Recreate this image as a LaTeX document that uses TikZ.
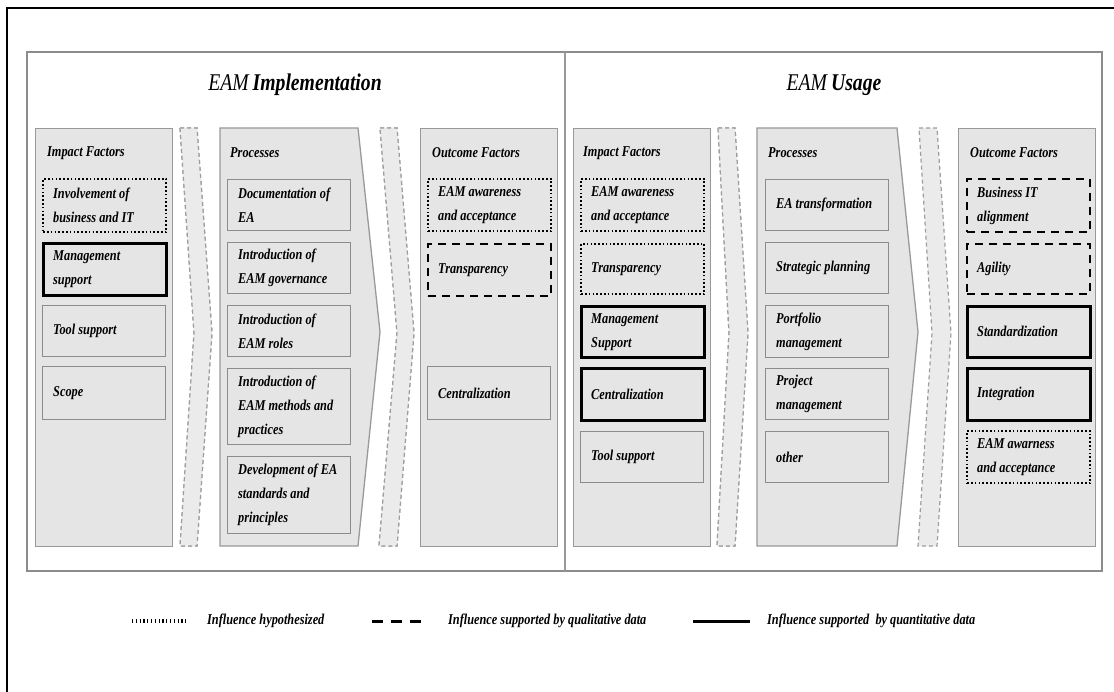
\documentclass[tikz,border=0pt]{standalone}
\usepackage{fontspec}
\setmainfont{Liberation Serif}
\newfontfamily\cond{Liberation Serif}[FakeStretch=0.82]

% one factor box: name, style, x, y (top left), height, text
\newcommand\factorbox[6]{%
  \node[#2, minimum height=#5pt] (#1) at (#3,#4) {};
  \node[lbl] (#1t) at ([xshift=11pt]#1.west) {#6};}

\begin{document}
\begin{tikzpicture}[x=1pt, y=-1pt,
  every node/.style={inner sep=0pt},
  lbl/.style={anchor=west, align=left,
    font=\cond\bfseries\itshape\fontsize{15}{24}\selectfont},
  head/.style={anchor=west, font=\cond\bfseries\itshape\fontsize{15}{18}\selectfont},
  title/.style={font=\cond\itshape\fontsize{24}{28}\selectfont},
  col/.style={draw=black!40, fill=black!10, line width=1.3pt,
    anchor=north west, minimum width=137pt, minimum height=418pt},
  gapstrip/.style={draw=black!38, fill=black!8, line width=1.2pt,
    dash pattern=on 4pt off 3pt},
  fbase/.style={anchor=north west, minimum width=123pt, fill=black!10},
  plain/.style={fbase, draw=black!45, line width=1.3pt},
  strong/.style={fbase, draw=black, line width=2.6pt},
  qual/.style={fbase, draw=black, line width=2.2pt, dash pattern=on 8pt off 6pt},
  hypo/.style={fbase, draw=black, line width=2.2pt, dash pattern=on 1.6pt off 2.2pt},
]
\useasboundingbox (0,0) rectangle (1114,692);
\fill[white] (0,0) rectangle (1114,692);

% outer black frame
\draw[line width=2pt] (7,692) -- (7,8) -- (1114,8);

% diagram frame and divider
\draw[draw=black!45, line width=1.8pt, fill=white] (27,52) rectangle (1102,571);
\draw[draw=black!40, line width=1.3pt] (565,52) -- (565,571);

% titles
\node[title] (tImpl) at (295,85) {EAM\,\textbf{Implementation}};
\node[title] (tUse) at (834,85) {EAM\,\textbf{Usage}};

% strips between the columns
\fill[gapstrip] (180,128) -- (197,128) -- (212,333) -- (197,546) -- (180,546) -- (194,333) -- cycle;
\fill[gapstrip] (380,128) -- (397,128) -- (414,333) -- (397,546) -- (379,546) -- (397,333) -- cycle;
\fill[gapstrip] (718,128) -- (735,128) -- (748,333) -- (735,546) -- (717,546) -- (729,333) -- cycle;
\draw[gapstrip] (180,128) -- (197,128) -- (212,333) -- (197,546) -- (180,546) -- (194,333) -- cycle;
\draw[gapstrip] (380,128) -- (397,128) -- (414,333) -- (397,546) -- (379,546) -- (397,333) -- cycle;
\draw[gapstrip] (718,128) -- (735,128) -- (748,333) -- (735,546) -- (717,546) -- (729,333) -- cycle;
\draw[gapstrip] (919,128) -- (937,128) -- (951,333) -- (937,546) -- (918,546) -- (932,333) -- cycle;

% columns
\node[col] (impA) at (35,128) {};
\draw[draw=black!40, fill=black!10, line width=1.3pt]
  (220,128) -- (358,128) -- (380,332) -- (358,546) -- (220,546) -- cycle;
\node[col] (outA) at (420,128) {};
\node[col] (impB) at (573,128) {};
\draw[draw=black!40, fill=black!10, line width=1.3pt]
  (757,128) -- (897,128) -- (918,332) -- (897,546) -- (757,546) -- cycle;
\node[col] (outB) at (958,128) {};

% column headings
\node[head] (hImpA) at (47,153) {Impact Factors};
\node[head] (hProA) at (230,153) {Processes};
\node[head] (hOutA) at (432,153) {Outcome Factors};
\node[head] (hImpB) at (583,153) {Impact Factors};
\node[head] (hProB) at (768,153) {Processes};
\node[head] (hOutB) at (970,153) {Outcome Factors};

% EAM implementation: impact factors
\factorbox{ia1}{hypo}{42}{178}{53}{Involvement of\\business and IT}
\factorbox{ia2}{strong}{42}{242}{52}{Management\\support}
\factorbox{ia3}{plain}{42}{305}{51}{Tool support}
\factorbox{ia4}{plain}{42}{366}{53}{Scope}

% EAM implementation: processes
\factorbox{pa1}{plain}{227}{179}{51}{Documentation of\\EA}
\factorbox{pa2}{plain}{227}{242}{51}{Introduction of\\EAM governance}
\factorbox{pa3}{plain}{227}{305}{51}{Introduction of\\EAM roles}
\factorbox{pa4}{plain}{227}{368}{76}{Introduction of\\EAM methods and\\practices}
\factorbox{pa5}{plain}{227}{456}{77}{Development of EA\\standards and\\principles}

% EAM implementation: outcome factors
\factorbox{oa1}{hypo}{427}{178}{52}{EAM awareness\\and acceptance}
\factorbox{oa2}{qual}{427}{243}{52}{Transparency}
\factorbox{oa3}{plain}{427}{366}{53}{Centralization}

% EAM usage: impact factors
\factorbox{ib1}{hypo}{580}{178}{52}{EAM awareness\\and acceptance}
\factorbox{ib2}{hypo}{580}{243}{50}{Transparency}
\factorbox{ib3}{strong}{580}{305}{51}{Management\\Support}
\factorbox{ib4}{strong}{580}{367}{52}{Centralization}
\factorbox{ib5}{plain}{580}{431}{51}{Tool support}

% EAM usage: processes
\factorbox{pb1}{plain}{765}{179}{51}{EA transformation}
\factorbox{pb2}{plain}{765}{242}{51}{Strategic planning}
\factorbox{pb3}{plain}{765}{305}{52}{Portfolio\\management}
\factorbox{pb4}{plain}{765}{368}{51}{Project\\management}
\factorbox{pb5}{plain}{765}{431}{51}{other}

% EAM usage: outcome factors
\factorbox{ob1}{qual}{966}{178}{53}{Business IT\\alignment}
\factorbox{ob2}{qual}{966}{243}{50}{Agility}
\factorbox{ob3}{strong}{966}{305}{51}{Standardization}
\factorbox{ob4}{strong}{966}{367}{52}{Integration}
\factorbox{ob5}{hypo}{966}{430}{52}{EAM awarness\\and acceptance}

% legend
\coordinate (l1a) at (132,621); \coordinate (l1b) at (188,621);
\coordinate (l2a) at (372,621); \coordinate (l2b) at (422,621);
\coordinate (l3a) at (693,621); \coordinate (l3b) at (750,621);
\draw[line width=3.5pt, dash pattern=on 1.2pt off 2.6pt] (l1a) -- (l1b);
\draw[line width=3pt, dash pattern=on 11pt off 8pt] (l2a) -- (l2b);
\draw[line width=3pt] (l3a) -- (l3b);
\node[lbl] (lg1) at (207,621) {Influence hypothesized};
\node[lbl] (lg2) at (448,621) {Influence supported by qualitative data};
\node[lbl] (lg3) at (767,621) {Influence supported\ \ by quantitative data};
\end{tikzpicture}
\end{document}
